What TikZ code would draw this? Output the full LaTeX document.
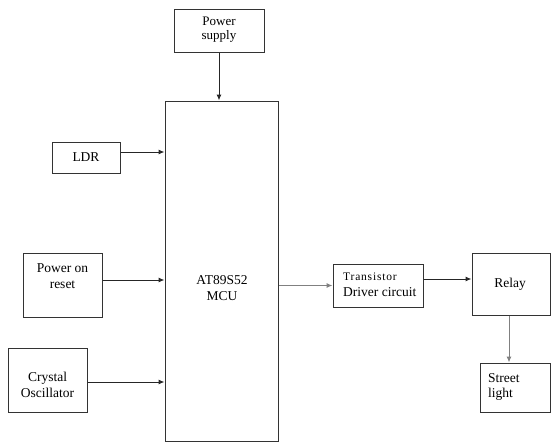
\documentclass[tikz,border=0pt]{standalone}
\usepackage{fontspec}
\setmainfont{Liberation Serif}
\usetikzlibrary{arrows.meta}
\begin{document}
\begin{tikzpicture}[x=1pt,y=-1pt,
  box/.style={draw=black!80,line width=1pt,rectangle,inner sep=0pt},
  txt/.style={inner sep=0pt,align=center,font=\rmfamily\fontsize{13.5}{15.5}\selectfont},
  ltxt/.style={inner sep=0pt,align=left,font=\rmfamily\fontsize{13.5}{15.5}\selectfont},
  arr/.style={draw=black!85,line width=1pt,-{Latex[length=6pt,width=5pt]}},
  garr/.style={draw=black!50,line width=1pt,-{Latex[length=6pt,width=5pt]}}]
\useasboundingbox (0,0) rectangle (551,442);
% boxes
\node[box,minimum width=90pt,minimum height=43pt] (ps) at (219,30.5) {};
\node[box,minimum width=113pt,minimum height=340pt] (mcu) at (221.5,271) {};
\node[box,minimum width=68pt,minimum height=31pt] (ldr) at (86,157.5) {};
\node[box,minimum width=79pt,minimum height=64pt] (por) at (62.5,285) {};
\node[box,minimum width=79pt,minimum height=64pt] (xtal) at (47.5,380) {};
\node[box,minimum width=90pt,minimum height=43pt] (drv) at (378,285.5) {};
\node[box,minimum width=78pt,minimum height=62pt] (relay) at (511,284) {};
\node[box,minimum width=70pt,minimum height=49pt] (street) at (515,387.5) {};
% texts
\node[txt,font=\rmfamily\fontsize{13}{14}\selectfont] (pst) at (219,30) {Power\\supply};
\node[txt] (mcut) at (222,288) {AT89S52\\MCU};
\node[txt] (ldrt) at (86,157.5) {LDR};
\node[txt] (port) at (62.5,276) {Power on\\reset};
\node[txt] (xtalt) at (47.5,385) {Crystal\\Oscillator};
\node[ltxt,anchor=west] (drvt) at (343,285) {{\fontsize{11.5}{15.5}\selectfont\addfontfeature{LetterSpace=7}Transistor}\\Driver circuit};
\node[txt] (relayt) at (510,284) {Relay};
\node[ltxt,anchor=west] (streett) at (488,387) {Street\\light};
% connectors
\draw[arr] (ps.south) -- (ps.south |- mcu.north);
\draw[arr] ([yshift=5.5pt]ldr.east) -- ([yshift=5.5pt]ldr.east -| mcu.west);
\draw[arr] ([yshift=5pt]por.east) -- ([yshift=5pt]por.east -| mcu.west);
\draw[arr] ([yshift=-2pt]xtal.east) -- ([yshift=-2pt]xtal.east -| mcu.west);
\draw[garr] (drv.west -| mcu.east) -- (drv.west);
\draw[arr] ([yshift=6.5pt]drv.east) -- ([yshift=6.5pt]drv.east -| relay.west);
\draw[garr] ([xshift=-2pt]relay.south) -- ([xshift=-2pt]relay.south |- street.north);
\end{tikzpicture}
\end{document}
